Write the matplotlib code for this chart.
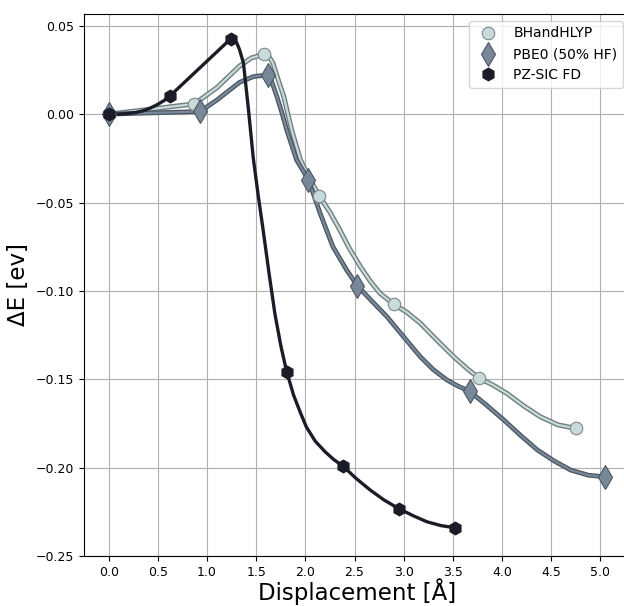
import numpy as np
import matplotlib.pyplot as plt
import matplotlib.patheffects as pe

# marker points
x_bh = [0.0, 0.87, 1.58, 2.14, 2.90, 3.77, 4.75]
e_bh = [0.0, 0.0058, 0.0338, -0.0463, -0.1076, -0.1495, -0.1778]

x_pbe = [0.0, 0.93, 1.62, 2.03, 2.53, 3.67, 5.05]
e_pbe = [0.0, 0.0015, 0.0223, -0.0370, -0.0972, -0.1568, -0.2052]

x_pz = [0.0, 0.62, 1.24, 1.81, 2.38, 2.95, 3.52]
e_pz = [0.0, 0.0102, 0.0426, -0.1458, -0.1990, -0.2232, -0.2340]

# points along the drawn curves
xl_bh = [0.0, 0.87, 1.10, 1.33, 1.45, 1.58, 1.63, 1.67, 1.72, 1.78, 1.86, 1.95, 2.05, 2.14,
         2.25, 2.35, 2.45, 2.56, 2.66, 2.76, 2.90, 3.03, 3.17, 3.34, 3.51, 3.65, 3.77,
         3.90, 4.05, 4.22, 4.39, 4.57, 4.75]
el_bh = [0.0, 0.0058, 0.0150, 0.0272, 0.0318, 0.0338, 0.0325, 0.0289, 0.0200, 0.0100, -0.0089, -0.0259,
         -0.0372, -0.0463, -0.0555, -0.0655, -0.0762, -0.0863, -0.0945, -0.1014, -0.1076, -0.1120,
         -0.1183, -0.1280, -0.1373, -0.1442, -0.1495, -0.1530, -0.1580, -0.1650, -0.1712, -0.1758, -0.1778]

xl_pbe = [0.0, 0.93, 1.10, 1.33, 1.47, 1.62, 1.66, 1.71, 1.76, 1.81, 1.91, 2.03, 2.15, 2.28, 2.42, 2.53,
          2.68, 2.83, 3.00, 3.17, 3.30, 3.44, 3.55, 3.67, 3.84, 4.02, 4.19, 4.36, 4.53, 4.70, 4.88, 5.05]
el_pbe = [0.0, 0.0015, 0.0080, 0.0180, 0.0212, 0.0223, 0.0180, 0.0100, 0.0010, -0.0089, -0.0259, -0.0370,
          -0.0561, -0.0750, -0.0882, -0.0972, -0.1060, -0.1146, -0.1260, -0.1373, -0.1445, -0.1504,
          -0.1538, -0.1568, -0.1645, -0.1731, -0.1818, -0.1900, -0.1962, -0.2014, -0.2043, -0.2052]

xl_pz = [0.0, 0.10, 0.18, 0.27, 0.35, 0.42, 0.49, 0.56, 0.62, 1.24, 1.27, 1.30, 1.33, 1.37, 1.42, 1.47,
         1.52, 1.57, 1.63, 1.69, 1.75, 1.81, 1.88, 1.95, 2.01, 2.10, 2.20, 2.29, 2.38, 2.52, 2.66,
         2.80, 2.95, 3.10, 3.24, 3.38, 3.52]
el_pz = [0.0, 0.0, 0.0003, 0.0009, 0.0019, 0.0034, 0.0053, 0.0076, 0.0102, 0.0426, 0.0423, 0.0405,
         0.0365, 0.0289, 0.0030, -0.0250, -0.0460, -0.0655, -0.0900, -0.1130, -0.1310, -0.1458,
         -0.1590, -0.1690, -0.1770, -0.1850, -0.1910, -0.1955, -0.1990, -0.2063, -0.2127, -0.2183,
         -0.2232, -0.2273, -0.2307, -0.2328, -0.2340]

c_bh = "#c9dada"
c_pbe = "#778899"
c_pz = "#1c1c28"

fig = plt.figure(figsize=(6.24, 6.06), dpi=100)
ax = fig.add_axes([0.1346, 0.0825, 0.875, 0.8945])

ax.plot(xl_bh, el_bh, color=c_bh, lw=1.6, zorder=3, solid_joinstyle="round",
        path_effects=[pe.Stroke(linewidth=3.6, foreground="#6f7f7f"), pe.Normal()])
ax.plot(xl_pbe, el_pbe, color=c_pbe, lw=1.6, zorder=3, solid_joinstyle="round",
        path_effects=[pe.Stroke(linewidth=3.4, foreground="#4a5560"), pe.Normal()])
ax.plot(xl_pz, el_pz, color=c_pz, lw=2.4, zorder=4, solid_joinstyle="round")

ax.plot(x_bh, e_bh, "o", ms=9, mfc=c_bh, mec="#7a8a8a", mew=0.8, label="BHandHLYP", zorder=5)
ax.plot(x_pbe, e_pbe, "d", ms=12, mfc=c_pbe, mec="#4a5560", mew=0.8, label="PBE0 (50% HF)", zorder=5)
ax.plot(x_pz, e_pz, "h", ms=9, mfc=c_pz, mec=c_pz, label="PZ-SIC FD", zorder=6)

ax.set_xlim(-0.2525, 5.3025)
ax.set_ylim(-0.25, 0.0567)
ax.set_xticks(np.arange(0, 5.01, 0.5))
ax.set_yticks(np.arange(-0.25, 0.051, 0.05))
ax.grid(True, color="#b0b0b0", lw=0.8)
ax.set_axisbelow(True)
ax.tick_params(labelsize=9)
ax.set_xlabel("Displacement [Å]", fontsize=16.5, labelpad=0)
ax.set_ylabel("ΔE [ev]", fontsize=16.5, labelpad=4)
ax.legend(loc="upper right", fontsize=10)

fig.savefig("out.png", dpi=100)
